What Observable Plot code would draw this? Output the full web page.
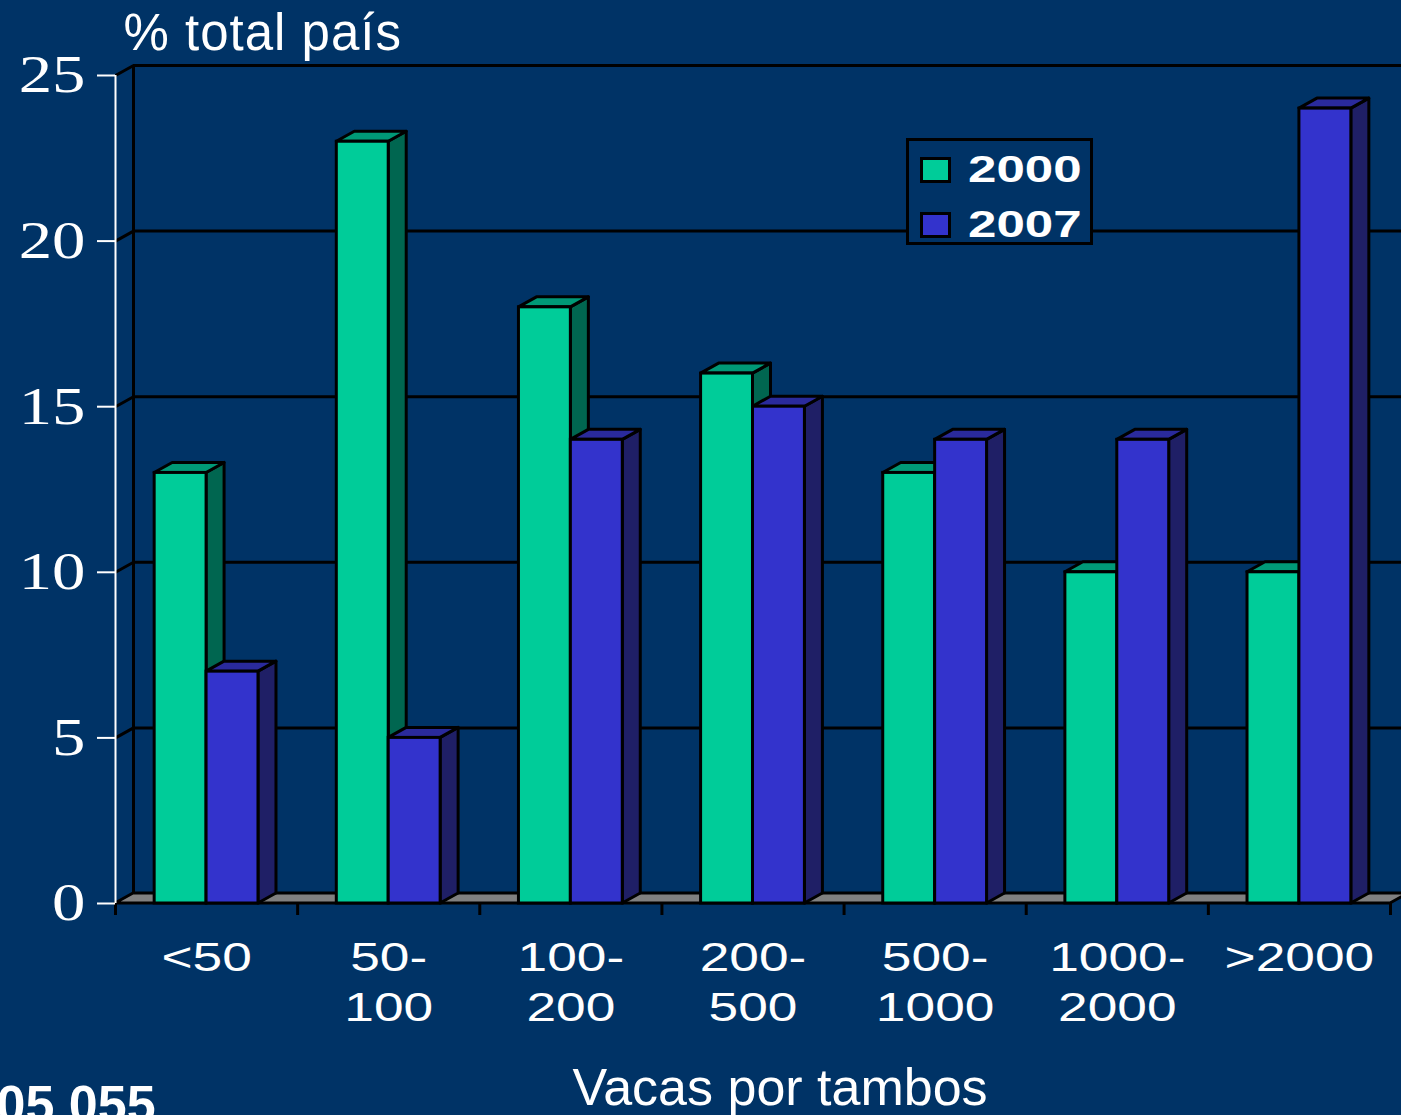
<!DOCTYPE html>
<html>
<head>
<meta charset="utf-8">
<script src="https://cdn.jsdelivr.net/npm/d3@7"></script>
<script src="https://cdn.jsdelivr.net/npm/@observablehq/plot@0.6"></script>
<style>
  html, body { margin: 0; padding: 0; background: #003366; overflow: hidden; }
  #wrap { position: relative; width: 1401px; height: 1115px; overflow: hidden; }
  [aria-description="title"] text { letter-spacing: 1px; }
  #legend { position: absolute; left: 906px; top: 138px; width: 181px; height: 101px;
    border: 3px solid #000; background: #003366; font-family: "Liberation Sans", Arial, sans-serif; }
  .li { position: absolute; left: 11px; height: 30px; }
  .sw { position: absolute; left: 0; top: 0; width: 25px; height: 20px; border: 3px solid #000; }
  .lt { position: absolute; left: 48px; top: -8px; font-weight: bold; font-size: 37px; color: #fff;
    transform: scaleX(1.38); transform-origin: left center; white-space: nowrap; }
</style>
</head>
<body>
<div id="wrap"></div>
<script>
// ---- data ----
const categories = ["<50", "50-\n100", "100-\n200", "200-\n500", "500-\n1000", "1000-\n2000", ">2000"];
const seriesNames = ["2000", "2007"];
const values2000 = [13, 23, 18, 16, 13, 10, 10];
const values2007 = [7, 5, 14, 15, 14, 14, 24];
const yTicks = [0, 5, 10, 15, 20, 25];
const titleText = "% total país";
const xTitle = "Vacas por tambos";
const cornerText = "05 055";

// ---- styling / geometry ----
const W = 1401, H = 1115;
const mL = 115, mR = 11, mT = 75, mB = 212;
const nCat = categories.length;
const depthPx = 18, risePx = 10;
const dxD = depthPx * nCat / (W - mL - mR);
const dyD = risePx * 25 / (H - mT - mB);
const barW = 0.285;
const colors = {
  front: ["#00CC99", "#3333CC"],
  side:  ["#006650", "#1F1F66"],
  top:   ["#009977", "#2A2A9C"]
};
const seriesValues = [values2000, values2007];

const rows = [];
seriesValues.forEach((vals, s) => vals.forEach((v, i) => {
  const xl = i + 0.5 - barW + s * barW;
  rows.push({s, i, v, xl, xr: xl + barW});
}));

const sideData = s => rows.filter(r => r.s === s).flatMap(r => [
  {k: r.i, x: r.xr, y1: 0, y2: r.v},
  {k: r.i, x: r.xr + dxD, y1: dyD, y2: r.v + dyD}
]);
const topData = s => rows.filter(r => r.s === s).flatMap(r => [
  {k: r.i, y: r.v, x1: r.xl, x2: r.xr},
  {k: r.i, y: r.v + dyD, x1: r.xl + dxD, x2: r.xr + dxD}
]);

const floor = [{y: 0, x1: 0, x2: nCat}, {y: dyD, x1: dxD, x2: nCat + dxD}];
const bounds = d3.range(nCat + 1);

const marks = [
  // back wall gridlines
  Plot.ruleY(yTicks.slice(1), {x1: 0, x2: nCat + 0.2, dx: depthPx, dy: -risePx, stroke: "#000", strokeWidth: 3}),
  Plot.ruleX([0], {y1: 0, y2: 25, dx: depthPx, dy: -risePx, stroke: "#000", strokeWidth: 3}),
  Plot.link(yTicks.slice(1), {x1: 0, y1: d => d, x2: dxD, y2: d => d + dyD, stroke: "#000", strokeWidth: 3}),
  // floor
  Plot.areaX(floor, {y: "y", x1: "x1", x2: "x2", fill: "#808080", stroke: "#000", strokeWidth: 3}),
  // x ticks
  Plot.ruleX(bounds, {x: d => d, y1: 0, y2: -12 * 25 / (H - mT - mB), stroke: "#000", strokeWidth: 3}),
];
[0, 1].forEach(s => marks.push(Plot.areaY(sideData(s), {x: "x", y1: "y1", y2: "y2", z: "k", fill: colors.side[s], stroke: "#000", strokeWidth: 3, strokeLinejoin: "round"})));
[0, 1].forEach(s => marks.push(Plot.areaX(topData(s), {y: "y", x1: "x1", x2: "x2", z: "k", fill: colors.top[s], stroke: "#000", strokeWidth: 3, strokeLinejoin: "round"})));
[0, 1].forEach(s => marks.push(Plot.rect(rows.filter(r => r.s === s), {x1: "xl", x2: "xr", y1: 0, y2: "v", fill: colors.front[s], stroke: "#000", strokeWidth: 3})));
marks.push(
  // front y axis (white)
  Plot.ruleX([0], {y1: 0, y2: 25, stroke: "#fff", strokeWidth: 2}),
  Plot.ruleY(yTicks, {y: d => d, x1: -dxD, x2: 0, stroke: "#fff", strokeWidth: 2}),
  Plot.text(yTicks, {x: 0, y: d => d, text: d => String(d), textAnchor: "end", lineAnchor: "middle", dx: -30, dy: 0,
    fontFamily: "Liberation Serif, Times New Roman, serif", fontSize: 53, fill: "#fff", ariaDescription: "y-labels"}),
  // category labels
  Plot.text(categories, {x: (d, i) => i + 0.5, y: 0, text: d => d, textAnchor: "middle", lineAnchor: "top", dy: 32, dx: 0,
    lineHeight: 1.214, fontFamily: "Liberation Sans, Arial, sans-serif", fontSize: 41, fill: "#fff", ariaDescription: "cat-labels"}),
  // titles
  Plot.text([titleText], {frameAnchor: "top-left", text: d => d, textAnchor: "start", lineAnchor: "bottom", dx: 8, dy: -26,
    fontFamily: "Liberation Sans, Arial, sans-serif", fontSize: 51, fill: "#fff", ariaDescription: "title"}),
  Plot.text([xTitle], {frameAnchor: "bottom", text: d => d, textAnchor: "middle", lineAnchor: "bottom", dx: 27, dy: 201,
    fontFamily: "Liberation Sans, Arial, sans-serif", fontSize: 52, fill: "#fff"}),
  Plot.text([cornerText], {frameAnchor: "bottom-left", text: d => d, textAnchor: "start", lineAnchor: "bottom", dx: -119, dy: 218,
    fontFamily: "Liberation Sans, Arial, sans-serif", fontSize: 52, fontWeight: "bold", fill: "#fff"})
);

const chart = Plot.plot({
  width: W, height: H,
  marginLeft: mL, marginRight: mR, marginTop: mT, marginBottom: mB,
  x: {domain: [0, nCat], axis: null},
  y: {domain: [0, 25], axis: null},
  style: {background: "transparent", color: "#fff", overflow: "visible"},
  marks
});

// horizontal stretch of tick labels (as in the original slide)
function stretch(desc, k) {
  chart.querySelectorAll(`[aria-description="${desc}"] text`).forEach(t => {
    const tr = t.getAttribute("transform");
    if (tr) {
      t.setAttribute("transform", tr + ` scale(${k},1)`);
    } else {
      const x = +(t.getAttribute("x") || 0), y = +(t.getAttribute("y") || 0);
      t.removeAttribute("x"); t.removeAttribute("y");
      t.setAttribute("transform", `translate(${x},${y}) scale(${k},1)`);
    }
  });
}
stretch("cat-labels", 1.3);
stretch("y-labels", 1.26);

const wrap = document.getElementById("wrap");
wrap.appendChild(chart);

// legend
const legend = document.createElement("div");
legend.id = "legend";
seriesNames.forEach((name, s) => {
  const item = document.createElement("div");
  item.className = "li";
  item.style.top = (16 + s * 55) + "px";
  const sw = document.createElement("div");
  sw.className = "sw";
  sw.style.background = colors.front[s];
  const t = document.createElement("div");
  t.className = "lt";
  t.textContent = name;
  item.appendChild(sw); item.appendChild(t);
  legend.appendChild(item);
});
wrap.appendChild(legend);
</script>
</body>
</html>
